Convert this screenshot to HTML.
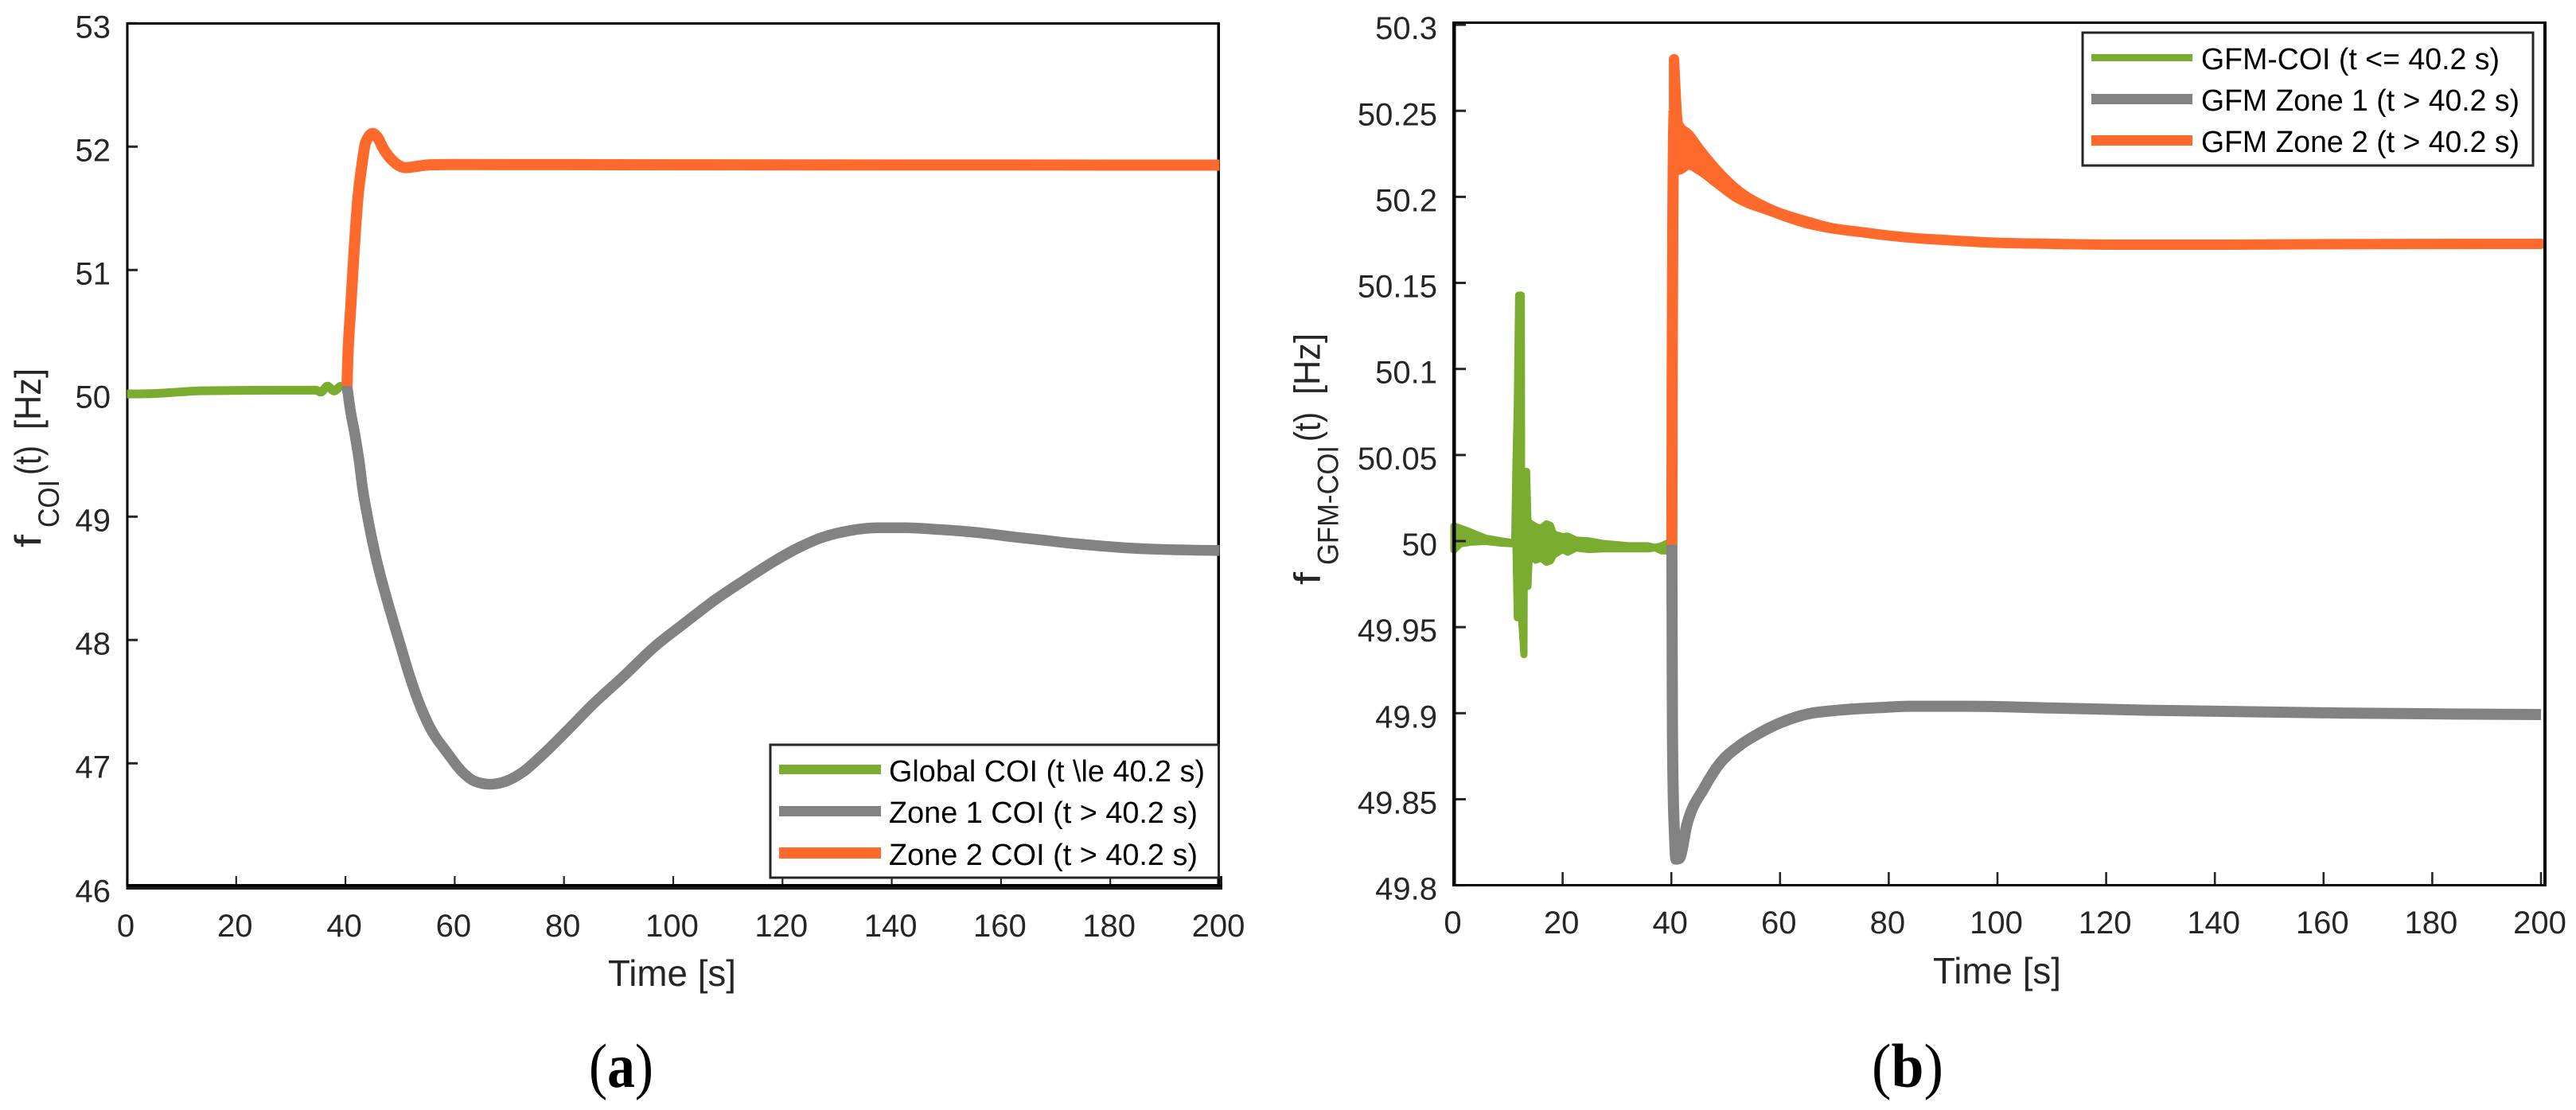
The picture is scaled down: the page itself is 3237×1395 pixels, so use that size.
<!DOCTYPE html>
<html lang="en">
<head>
<meta charset="utf-8">
<title>COI frequency responses</title>
<style>
html,body{margin:0;padding:0;background:#fff;}
svg{display:block;}
text{font-family:"Liberation Sans",Arial,sans-serif;fill:#262626;}
.leg{fill:#000;font-size:37.6px;}
.cap{font-family:"Liberation Serif",serif;fill:#000;font-size:78px;}
.lab{font-size:46px;}
.sub{font-size:37px;}
</style>
</head>
<body>
<svg id="figure" xmlns="http://www.w3.org/2000/svg" width="3237" height="1395" viewBox="0 0 3237 1395">
  <rect x="0" y="0" width="3237" height="1395" fill="#ffffff"/>

  <g id="panel-a"></g>
  <g id="panel-b"></g>

  <g>
    <rect x="968" y="936" width="563.5" height="167" fill="#fff" stroke="#262626" stroke-width="3"/>
    <rect x="979" y="961" width="128" height="12" fill="#7AAC30"/>
    <rect x="979" y="1013" width="128" height="13" fill="#828282"/>
    <rect x="979" y="1065" width="128" height="14" fill="#FE6A2C"/>
    <text class="leg" x="1117" y="982" textLength="397" lengthAdjust="spacingAndGlyphs">Global COI (t \le 40.2 s)</text>
    <text class="leg" x="1117" y="1034" textLength="388" lengthAdjust="spacingAndGlyphs">Zone 1 COI (t &gt; 40.2 s)</text>
    <text class="leg" x="1117" y="1087" textLength="388" lengthAdjust="spacingAndGlyphs">Zone 2 COI (t &gt; 40.2 s)</text>
  </g>

  <g>
    <rect x="2617" y="41" width="566" height="167" fill="#fff" stroke="#262626" stroke-width="3"/>
    <rect x="2628" y="68" width="127" height="9" fill="#7AAC30"/>
    <rect x="2628" y="118" width="127" height="13" fill="#828282"/>
    <rect x="2628" y="170" width="127" height="13" fill="#FE6A2C"/>
    <text class="leg" x="2766" y="87" textLength="375" lengthAdjust="spacingAndGlyphs">GFM-COI (t &lt;= 40.2 s)</text>
    <text class="leg" x="2766" y="139" textLength="400" lengthAdjust="spacingAndGlyphs">GFM Zone 1 (t &gt; 40.2 s)</text>
    <text class="leg" x="2766" y="191" textLength="400" lengthAdjust="spacingAndGlyphs">GFM Zone 2 (t &gt; 40.2 s)</text>
  </g>

  <text class="lab" x="764" y="1239" textLength="161" lengthAdjust="spacingAndGlyphs">Time [s]</text>
  <text class="lab" x="2429" y="1236" textLength="161" lengthAdjust="spacingAndGlyphs">Time [s]</text>

  <g transform="translate(51,688) rotate(-90)">
    <text class="lab" x="0" y="0" textLength="16" lengthAdjust="spacingAndGlyphs">f</text>
    <text class="sub" x="25" y="23" textLength="60" lengthAdjust="spacingAndGlyphs">COI</text>
    <text class="lab" x="91" y="0" textLength="37" lengthAdjust="spacingAndGlyphs">(t)</text>
    <text class="lab" x="148" y="0" textLength="77" lengthAdjust="spacingAndGlyphs">[Hz]</text>
  </g>

  <g transform="translate(1658.5,735) rotate(-90)">
    <text class="lab" x="0" y="0" textLength="16" lengthAdjust="spacingAndGlyphs">f</text>
    <text class="sub" x="25" y="23" textLength="150" lengthAdjust="spacingAndGlyphs">GFM-COI</text>
    <text class="lab" x="180" y="0" textLength="37" lengthAdjust="spacingAndGlyphs">(t)</text>
    <text class="lab" x="239" y="0" textLength="77" lengthAdjust="spacingAndGlyphs">[Hz]</text>
  </g>

  <text class="cap" x="740" y="1366" textLength="81" lengthAdjust="spacingAndGlyphs">(<tspan font-weight="bold">a</tspan>)</text>
  <text class="cap" x="2352" y="1366" textLength="90" lengthAdjust="spacingAndGlyphs">(<tspan font-weight="bold">b</tspan>)</text>
</svg>

<script>
// ---------- shared tick labels ----------
const xTickLabels = ["0","20","40","60","80","100","120","140","160","180","200"];
const aYTickLabels = ["53","52","51","50","49","48","47","46"];
const bYTickLabels = ["50.3","50.25","50.2","50.15","50.1","50.05","50","49.95","49.9","49.85","49.8"];

// ---------- panel (a) series ----------
const aTimeGreen = [0,5,10,13,19,28,34.55,35.5,36.7,37.95,39.15,40.28];
const aValGreen  = [49.995,49.998,50.012,50.02,50.023,50.025,50.026,50.01,50.058,50.019,50.058,50.06];

const aTimeGray = [40.29,40.85,41.74,42.52,43.13,43.97,44.92,46.03,47.32,48.71,50.16,51.61,53.28,55.4,58.69,61.37,63.6,66.49,69.45,72.51,75.86,80.32,85.34,90.91,96.49,102.06,107.64,113.21,118.79,122.43,127.45,132.46,137.48,142.5,147.5,152.5,157.5,162.6,167.6,172.6,177.6,182.6,187.6,192.7,200];
const aValGray  = [50.06,49.877,49.662,49.447,49.232,49.017,48.802,48.587,48.372,48.157,47.942,47.727,47.512,47.297,47.082,46.931,46.856,46.83,46.856,46.931,47.06,47.254,47.48,47.706,47.942,48.136,48.325,48.49,48.647,48.737,48.834,48.888,48.91,48.91,48.899,48.884,48.862,48.834,48.81,48.785,48.765,48.748,48.737,48.731,48.725];

const aTimeOrange = [40.28,40.42,40.96,41.54,42.22,43.09,43.67,44.98,45.96,46.8,48.6,51.06,53.5,55.4,60,100,200];
const aValOrange  = [50.06,50.265,50.694,51.125,51.555,51.877,52.03,52.107,52.07,51.995,51.888,51.83,51.843,51.853,51.855,51.853,51.85];

// ---------- panel (b) series (oscillation envelopes hi / lo) ----------
const bTimeGreen = [0,1.17,2.88,5.81,8.74,11.18,11.42,11.66,11.91,12.4,12.44,12.88,12.93,13.37,13.62,13.86,15.08,16.06,17.03,17.76,18.3,19.96,20.94,22.4,24.84,27.28,32.16,35.58,37.04,38.26,39.48,40.1];
const bHiGreen   = [50.0088,50.0075,50.0055,50.0017,50.0001,49.9989,50.0455,50.0785,50.1429,50.1429,50.0405,50.0405,50.0405,50.0405,50.0108,50.0108,50.0083,50.0075,50.01,50.0091,50.0042,50.0025,50.0029,50.0006,50.0001,49.9987,49.9973,49.9973,49.9963,49.9973,49.9992,49.9992];
const bLoGreen   = [49.9948,49.9984,49.9993,49.9998,49.9988,49.9984,49.9968,49.9555,49.9555,49.9555,49.9555,49.934,49.9737,49.9737,49.9737,49.9918,49.9889,49.9902,49.9877,49.9885,49.9918,49.9951,49.9935,49.996,49.9951,49.9955,49.9955,49.9955,49.996,49.9943,49.9943,49.9943];

const bTimeGray = [40.1,40.15,40.2,40.33,40.55,40.85,41.45,42.9,46.08,48.92,52.65,56.38,60.12,63.85,71.32,78.79,83.87,95,110,127.8,163,200];
const bValGray  = [49.998,49.9445,49.8919,49.8568,49.8322,49.8152,49.8156,49.8357,49.8568,49.8708,49.8814,49.8887,49.8945,49.8986,49.9019,49.9033,49.904,49.904,49.903,49.9017,49.9001,49.8992];

const bTimeRise = [40.1,40.16,40.3,40.5];
const bValRise  = [49.998,50.1,50.2,50.25];

const bTimeOrange = [40.5,41.27,43.23,45.2,48.46,51.73,58.27,64.8,69.25,75,80,85,90,98.5,110,125,140,160,200];
const bHiOrange   = [50.28,50.242,50.2359,50.2274,50.2151,50.205,50.1927,50.1858,50.182,50.1795,50.1775,50.176,50.175,50.1735,50.1727,50.1722,50.1722,50.1725,50.1727];
const bLoOrange   = [50.2157,50.2157,50.2188,50.2157,50.208,50.2003,50.1918,50.1848,50.1819,50.1795,50.1775,50.176,50.175,50.1735,50.1727,50.1722,50.1722,50.1725,50.1727];

// ---------- axis functions ----------
const SVGNS = "http://www.w3.org/2000/svg";
const aX = t => 159.5 + t * 6.865;
const aY = v => 494.3 - (v - 50) * 155;
const bX = t => 1827 + t * 6.83;
const bY = v => 680 - (v - 50) * 2163;

const GREEN = "#7AAC30", GRAY = "#828282", ORANGE = "#FE6A2C", INK = "#262626";

function make(tag, parent, attrs) {
  const el = document.createElementNS(SVGNS, tag);
  for (const k in attrs) el.setAttribute(k, attrs[k]);
  parent.appendChild(el);
  return el;
}
// Monotone cubic path through data points (no overshoot, flat at extrema).
function monoSegments(px, py) {
  const n = px.length;
  const h = [], s = [], m = new Array(n).fill(0);
  for (let i = 0; i < n - 1; i++) {
    h[i] = px[i + 1] - px[i];
    s[i] = h[i] ? (py[i + 1] - py[i]) / h[i] : 0;
  }
  for (let i = 1; i < n - 1; i++) {
    const d = h[i - 1] + h[i];
    const p = d ? (s[i - 1] * h[i] + s[i] * h[i - 1]) / d : 0;
    m[i] = (Math.sign(s[i - 1]) + Math.sign(s[i])) * Math.min(Math.abs(s[i - 1]), Math.abs(s[i]), 0.5 * Math.abs(p));
  }
  m[0] = (3 * s[0] - m[1]) / 2;
  m[n - 1] = (3 * s[n - 2] - m[n - 2]) / 2;
  let out = "";
  for (let i = 0; i < n - 1; i++) {
    const c = h[i] / 3;
    out += " C" + (px[i] + c).toFixed(2) + " " + (py[i] + m[i] * c).toFixed(2) + " " +
      (px[i + 1] - c).toFixed(2) + " " + (py[i + 1] - m[i + 1] * c).toFixed(2) + " " +
      px[i + 1].toFixed(2) + " " + py[i + 1].toFixed(2);
  }
  return out;
}
function linePath(ts, vs, X, Y) {
  const px = ts.map(X), py = vs.map(Y);
  return "M" + px[0].toFixed(2) + " " + py[0].toFixed(2) + monoSegments(px, py);
}
function bandPathStraight(ts, hi, lo, X, Y) {
  const up = ts.map((t, i) => (i ? "L" : "M") + X(t).toFixed(2) + " " + Y(hi[i]).toFixed(2)).join(" ");
  const down = ts.map((t, i) => [t, lo[i]]).reverse().map(p => "L" + X(p[0]).toFixed(2) + " " + Y(p[1]).toFixed(2)).join(" ");
  return up + " " + down + " Z";
}
function bandPathSmooth(ts, hi, lo, X, Y) {
  const px = ts.map(X), pu = hi.map(Y), pl = lo.map(Y);
  const rx = px.slice().reverse(), rl = pl.slice().reverse();
  return "M" + px[0].toFixed(2) + " " + pu[0].toFixed(2) + monoSegments(px, pu) +
    " L" + rx[0].toFixed(2) + " " + rl[0].toFixed(2) + monoSegments(rx, rl) + " Z";
}
function drawLine(parent, name, ts, vs, X, Y, color, width) {
  const el = make("path", parent, {d: linePath(ts, vs, X, Y), fill: "none", stroke: color, "stroke-width": width, "stroke-linejoin": "round", "stroke-linecap": "butt"});
  
  
  return el;
}
function drawBand(parent, name, d, color, width) {
  const el = make("path", parent, {d: d, fill: color, stroke: color, "stroke-width": width, "stroke-linejoin": "round"});
  
  
  return el;
}
function drawXTicks(parent, X, yBase, len, labelY, width) {
  xTickLabels.forEach(lab => {
    const t = parseFloat(lab);
    const tick = make("line", parent, {x1: X(t), x2: X(t), y1: yBase, y2: yBase - len, stroke: INK, "stroke-width": width});
    
    
    const txt = make("text", parent, {x: X(t) - 1.5, y: labelY, "text-anchor": "middle", "font-size": 40});
    
    
    txt.textContent = lab;
  });
}
function drawYTicks(parent, labels, Y, xBase, len, labelX, bottomNudge) {
  labels.forEach((lab, i) => {
    const v = parseFloat(lab);
    const tick = make("line", parent, {x1: xBase, x2: xBase + len, y1: Y(v), y2: Y(v), stroke: INK, "stroke-width": 3});
    
    
    const nudge = i === labels.length - 1 ? bottomNudge : 0;
    const txt = make("text", parent, {x: labelX, y: Y(v) + 18 + nudge, "text-anchor": "end", "font-size": 40});
    
    
    txt.textContent = lab;
  });
}
function drawRect(parent, name, x, y, w, h, color) {
  const el = make("rect", parent, {x: x, y: y, width: w, height: h, fill: color});
  
  
  return el;
}

// ---------- panel (a) ----------
const pa = document.getElementById("panel-a");
drawXTicks(pa, aX, 1111, 10, 1177, 2.2);
drawYTicks(pa, aYTickLabels, aY, 160, 13, 139, 1);
drawRect(pa, 'top-axis', 158.5, 28, 1374, 3, "#000");
drawRect(pa, 'left-axis', 158.5, 28, 3, 1088, "#000");
drawRect(pa, 'right-axis', 1529.5, 28, 3.5, 1088, "#000");
drawRect(pa, 'bottom-axis', 158.5, 1111, 1377.5, 3.5, "#000");
drawRect(pa, 'bottom-axis-shadow', 158.5, 1114.5, 1377.5, 3.5, "#1c1c1c");
drawRect(pa, 'end-tick', 1533, 1101, 3, 10, "#1c1c1c");
drawLine(pa, 'global-coi-line', aTimeGreen, aValGreen, aX, aY, GREEN, 11);
drawLine(pa, 'zone-1-coi-line', aTimeGray, aValGray, aX, aY, GRAY, 13.5);
drawLine(pa, 'zone-2-coi-line', aTimeOrange, aValOrange, aX, aY, ORANGE, 14);

// ---------- panel (b) ----------
const pb = document.getElementById("panel-b");
drawBand(pb, 'gfm-coi-line', bandPathStraight(bTimeGreen, bHiGreen, bLoGreen, bX, bY), GREEN, 9);
drawLine(pb, 'gfm-zone-1-line', bTimeGray, bValGray, bX, bY, GRAY, 14);
drawLine(pb, 'gfm-zone-2-rise', bTimeRise, bValRise, bX, bY, ORANGE, 14);
drawBand(pb, 'gfm-zone-2-line', bandPathSmooth(bTimeOrange, bHiOrange, bLoOrange, bX, bY), ORANGE, 13);
drawXTicks(pb, bX, 1112, 16, 1173, 2.6);
drawYTicks(pb, bYTickLabels, bY, 1829, 13, 1806, 0);
drawRect(pb, 'top-axis', 1825, 27, 1375, 3, "#000");
drawRect(pb, 'left-axis', 1825, 27, 4.5, 1087, "#000");
drawRect(pb, 'right-axis', 3196, 27, 4, 1087, "#000");
drawRect(pb, 'bottom-axis', 1825, 1111, 1375, 3, "#000");
</script>
</body>
</html>
